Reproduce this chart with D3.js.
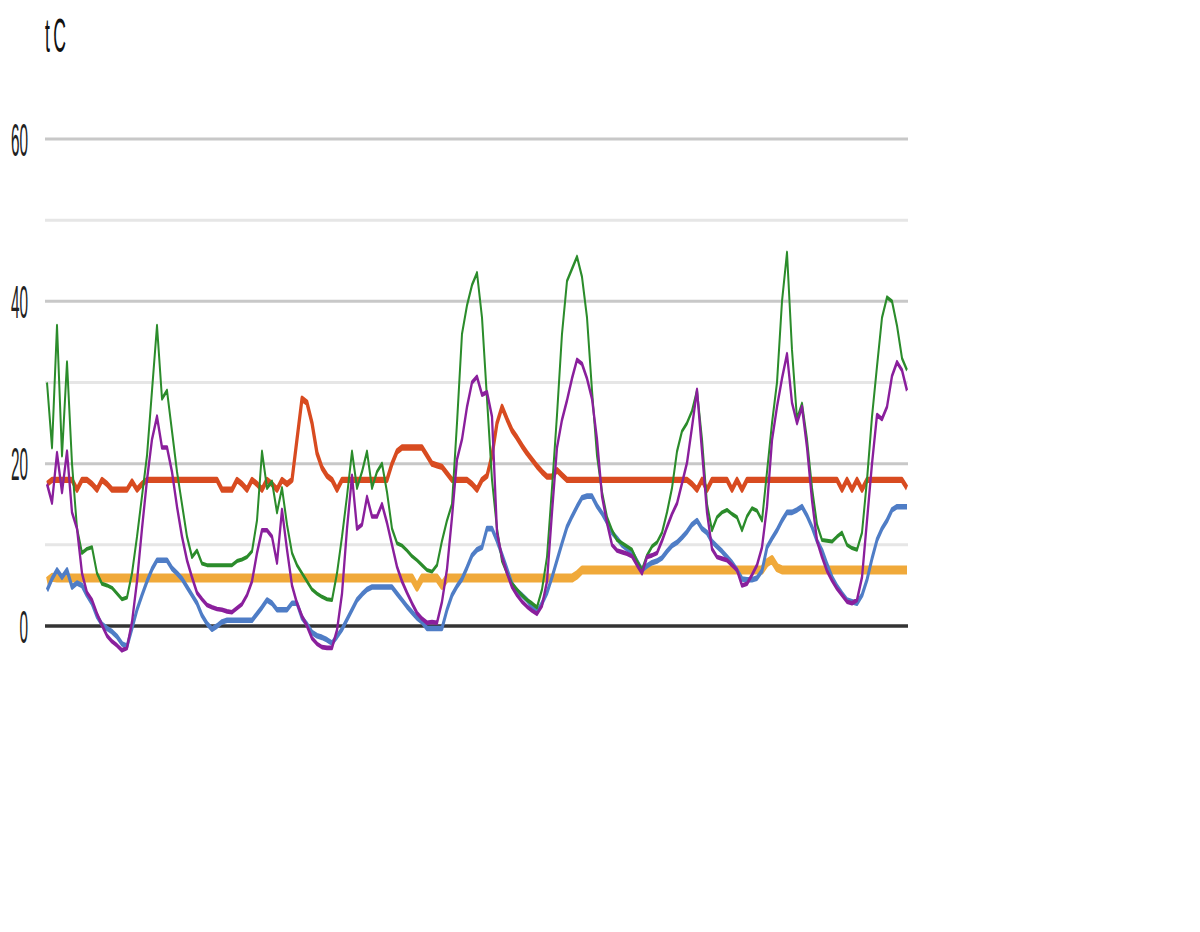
<!DOCTYPE html>
<html>
<head>
<meta charset="utf-8">
<script src="https://cdn.jsdelivr.net/npm/d3@7"></script>
<style>
body{margin:0;background:#fff}
svg{display:block}
</style>
</head>
<body>
<div id="chart"></div>
<script>
// hourly readings, one per step
var hours = d3.range(173)

var green = [30,22,37,21,32.5,20,12,9,9.5,9.7, 6.5,5.2,5,4.7,4,3.3,3.5,6.5,11,16,
  21,29,37,28,29,24,19,15,11,8.5, 9.3,7.7,7.5,7.5,7.5,7.5,7.5,7.5,8,8.2,
  8.5,9.2,13,21.5,17,17.8,14,17,12.5,9, 7.5,6.5,5.5,4.5,4,3.6,3.3,3.2,6.5,11,
  16,21.5,17,19,21.5,17,19,20,16.5,12, 10.2,9.9,9.3,8.6,8.1,7.5,6.9,6.7,7.5,10.5,
  13,15,25,36,39.5,42,43.5,38,28,18, 12,8,6.5,5.2,4.5,3.8,3.2,2.8,2.3,4.5,
  8.5,17,26,36,42.5,44,45.5,43,38,29, 21,16.5,13.4,11.8,10.6,10.2,9.8,9.4,8,6.9,
  8.7,9.8,10.3,11.5,14,17,21.5,24,25,26.5, 29,23,15,11.8,13.4,14,14.3,13.8,13.4,11.8,
  13.5,14.5,14.2,13,19,25,30,40,46,34, 25.5,27.4,23,17,12.5,10.6,10.5,10.4,11,11.5,
  10,9.6,9.4,11.5,18,25.8,32,38,40.5,40, 37,33,31.5]

var purple = [17.5,15.2,21.3,16.5,21.5,14,12,6.5,4.1,3.2, 1.5,0.1,-1.2,-1.9,-2.4,-3,-2.7,0.5,5.5,12,
  18,23,25.8,22,22,19,14.7,11,8.1,6, 4.1,3.3,2.6,2.3,2.1,2,1.8,1.7,2.2,2.7,
  3.8,5.5,9,11.8,11.8,11,7.8,14.3,9.4,5, 2.8,1.2,0,-1.5,-2.2,-2.6,-2.7,-2.7,-0.5,4,
  12,18.5,12,12.5,15.9,13.5,13.5,15,12.7,10, 7.3,5.5,4.1,2.8,1.6,0.9,0.4,0.5,0.4,3,
  7,13.4,20.5,23,27,30,30.7,28.5,28.8,25.8, 11.5,8.5,6.5,4.8,3.8,3,2.4,1.9,1.5,2.5,
  5.5,14,22,25.4,27.8,30.5,32.8,32.3,30.5,28, 23,16,12.7,10,9.3,9.1,8.9,8.6,7.5,6.5,
  8.5,8.7,9,10.5,12.2,13.8,15.1,17.6,20.1,24.5, 29.1,21.5,14,9.5,8.5,8.3,8.1,7.5,6.9,5,
  5.2,6.3,7.5,9.7,14.7,22.9,27,30.5,33.5,27.5, 25,27,22,15.5,10.5,8.5,6.8,5.6,4.6,3.8,
  3,2.8,3.2,6,13,20,26,25.5,27,30.8, 32.5,31.5,29]

var red = [17.5,18,18,18,18,18,16.8,18,18,17.5, 16.8,18,17.5,16.8,16.8,16.8,16.8,17.8,16.8,17.5,
  18,18,18,18,18,18,18,18,18,18, 18,18,18,18,18,16.8,16.8,16.8,18,17.5,
  16.8,18,17.5,16.8,18,17.5,16.8,18,17.5,18, 23,28,27.5,25,21.3,19.5,18.5,18,16.8,18,
  18,18,18,18,18,18,18,18,18,20, 21.5,22,22,22,22,22,21,20,19.8,19.6,
  18.8,18,18,18,18,17.5,16.8,18,18.5,21, 25,27,25.5,24.1,23.2,22.2,21.3,20.5,19.7,19,
  18.4,18.4,19.2,18.6,18,18,18,18,18,18, 18,18,18,18,18,18,18,18,18,18,
  18,18,18,18,18,18,18,18,18,17.5, 16.8,18,16.8,18,18,18,18,16.8,18,16.8,
  18,18,18,18,18,18,18,18,18,18, 18,18,18,18,18,18,18,18,18,16.8,
  18,16.8,18,16.8,18,18,18,18,18,18, 18,18,17]

var blue = [4.4,5.8,6.9,6,6.9,4.8,5.3,5,3.8,2.8, 1.2,0.2,-0.3,-0.7,-1.3,-2.2,-2.5,-0.3,2,3.8,
  5.5,7,8.1,8.1,8.1,7.1,6.5,5.8,4.8,3.8, 2.8,1.3,0.3,-0.4,0,0.5,0.7,0.7,0.7,0.7,
  0.7,0.7,1.5,2.3,3.2,2.8,2,2,2,2.8, 2.8,1,0.2,-0.8,-1.2,-1.4,-1.7,-2.1,-1.3,-0.4,
  0.8,2,3.2,3.9,4.5,4.8,4.8,4.8,4.8,4.8, 4,3.2,2.4,1.7,1,0.5,-0.3,-0.3,-0.3,-0.3,
  2,3.8,4.9,5.8,7.2,8.7,9.4,9.7,12,12, 10.5,8.8,7,5.2,4.3,3.8,3.2,2.4,1.7,2.8,
  4.1,6,8.1,10.2,12.2,13.5,14.7,15.8,16,16, 14.8,13.9,12.8,11.5,10.8,10,9.5,9.1,8,6.9,
  7.4,7.8,8,8.4,9.2,9.9,10.3,10.9,11.6,12.5, 13,12,11.5,10.4,9.8,9.2,8.5,7.8,6.9,5.8,
  5.7,5.7,5.9,6.8,9.7,10.8,11.8,13,14,14, 14.3,14.7,13.6,12.2,10.5,9.3,7.6,6,4.9,4,
  3.2,3,2.8,3.8,5.7,8.3,10.6,12,13,14.3, 14.7,14.7,14.7]

var orange = [5.5,6,5.9,5.9,5.9,5.9,5.9,5.9,5.9,5.9, 5.9,5.9,5.9,5.9,5.9,5.9,5.9,5.9,5.9,5.9,
  5.9,5.9,5.9,5.9,5.9,5.9,5.9,5.9,5.9,5.9, 5.9,5.9,5.9,5.9,5.9,5.9,5.9,5.9,5.9,5.9,
  5.9,5.9,5.9,5.9,5.9,5.9,5.9,5.9,5.9,5.9, 5.9,5.9,5.9,5.9,5.9,5.9,5.9,5.9,5.9,5.9,
  5.9,5.9,5.9,5.9,5.9,5.9,5.9,5.9,5.9,5.9, 5.9,5.9,5.9,5.9,4.8,5.9,5.9,5.9,5.9,5,
  5.9,5.9,5.9,5.9,5.9,5.9,5.9,5.9,5.9,5.9, 5.9,5.9,5.9,5.9,5.9,5.9,5.9,5.9,5.9,5.9,
  5.9,5.9,5.9,5.9,5.9,5.9,6.3,6.9,6.9,6.9, 6.9,6.9,6.9,6.9,6.9,6.9,6.9,6.9,6.9,6.9,
  6.9,6.9,6.9,6.9,6.9,6.9,6.9,6.9,6.9,6.9, 6.9,6.9,6.9,6.9,6.9,6.9,6.9,6.9,6.9,6.9,
  6.9,6.9,6.9,6.9,7.8,8.2,7.2,6.9,6.9,6.9, 6.9,6.9,6.9,6.9,6.9,6.9,6.9,6.9,6.9,6.9,
  6.9,6.9,6.9,6.9,6.9,6.9,6.9,6.9,6.9,6.9, 6.9,6.9,6.9]

var labelTicks = [0, 20, 40, 60]
var majorGrid = [20, 40, 60]
var minorGrid = [10, 30, 50]
var unitLabel = "tC"

var width = 1200, height = 932
var plotLeft = 47, plotRight = 907, plotTop = 139, plotBottom = 626
var K = 2 // picture is stretched vertically

var svg = d3.select("#chart").append("svg")
  .attr("width", width).attr("height", height)
  .style("font-family", "'Liberation Sans', Arial, sans-serif")

var x = d3.scaleLinear().domain([0, hours.length - 1]).range([plotLeft, plotRight])
var y = d3.scaleLinear().domain([0, 60]).range([plotBottom, plotTop])
var yk = d3.scaleLinear().domain([0, 60]).range([plotBottom / K, plotTop / K])

// grid
svg.append("g").selectAll("line").data(minorGrid).enter().append("line")
  .attr("x1", 45).attr("x2", 908)
  .attr("y1", function(d){ return y(d) }).attr("y2", function(d){ return y(d) })
  .attr("stroke", "#e6e6e6").attr("stroke-width", 3)
svg.append("g").selectAll("line").data(majorGrid).enter().append("line")
  .attr("x1", 45).attr("x2", 908)
  .attr("y1", function(d){ return y(d) }).attr("y2", function(d){ return y(d) })
  .attr("stroke", "#c8c8c8").attr("stroke-width", 3)
svg.append("line")
  .attr("x1", 45).attr("x2", 908).attr("y1", y(0)).attr("y2", y(0))
  .attr("stroke", "#333").attr("stroke-width", 3.5)

// axis labels
var axis = svg.append("g").attr("transform", "translate(28,0)")
  .call(d3.axisLeft(y).tickValues(labelTicks).tickSize(0).tickPadding(0))
axis.select(".domain").remove()
axis.selectAll("text")
  .attr("x", 0).attr("dy", "0.35em")
  .attr("transform", "scale(0.48,1.44)")
  .attr("fill", "#222").style("font-size", "32px")
  .style("font-family", "'Liberation Sans', Arial, sans-serif")

svg.append("text")
  .attr("transform", "translate(45,52) scale(0.55,1.5)")
  .attr("fill", "#111").style("font-size", "32px").style("letter-spacing", "6px")
  .text(unitLabel)

// series
var series = [
  {values: orange, color: "#f0a93a", w: 4.5},
  {values: red, color: "#d84b20", w: 3.2},
  {values: blue, color: "#4f7dc6", w: 2.8},
  {values: green, color: "#2b8c2b", w: 2},
  {values: purple, color: "#8a1f9c", w: 2.3}
]

var line = d3.line()
  .x(function(d, i){ return x(hours[i]) })
  .y(function(d){ return yk(d) })

var plot = svg.append("g").attr("transform", "scale(1," + K + ")")
plot.selectAll("path").data(series).enter().append("path")
  .attr("d", function(s){ return line(s.values) })
  .attr("fill", "none")
  .attr("stroke", function(s){ return s.color })
  .attr("stroke-width", function(s){ return s.w })
  .attr("stroke-linejoin", "round")
</script>
</body>
</html>
